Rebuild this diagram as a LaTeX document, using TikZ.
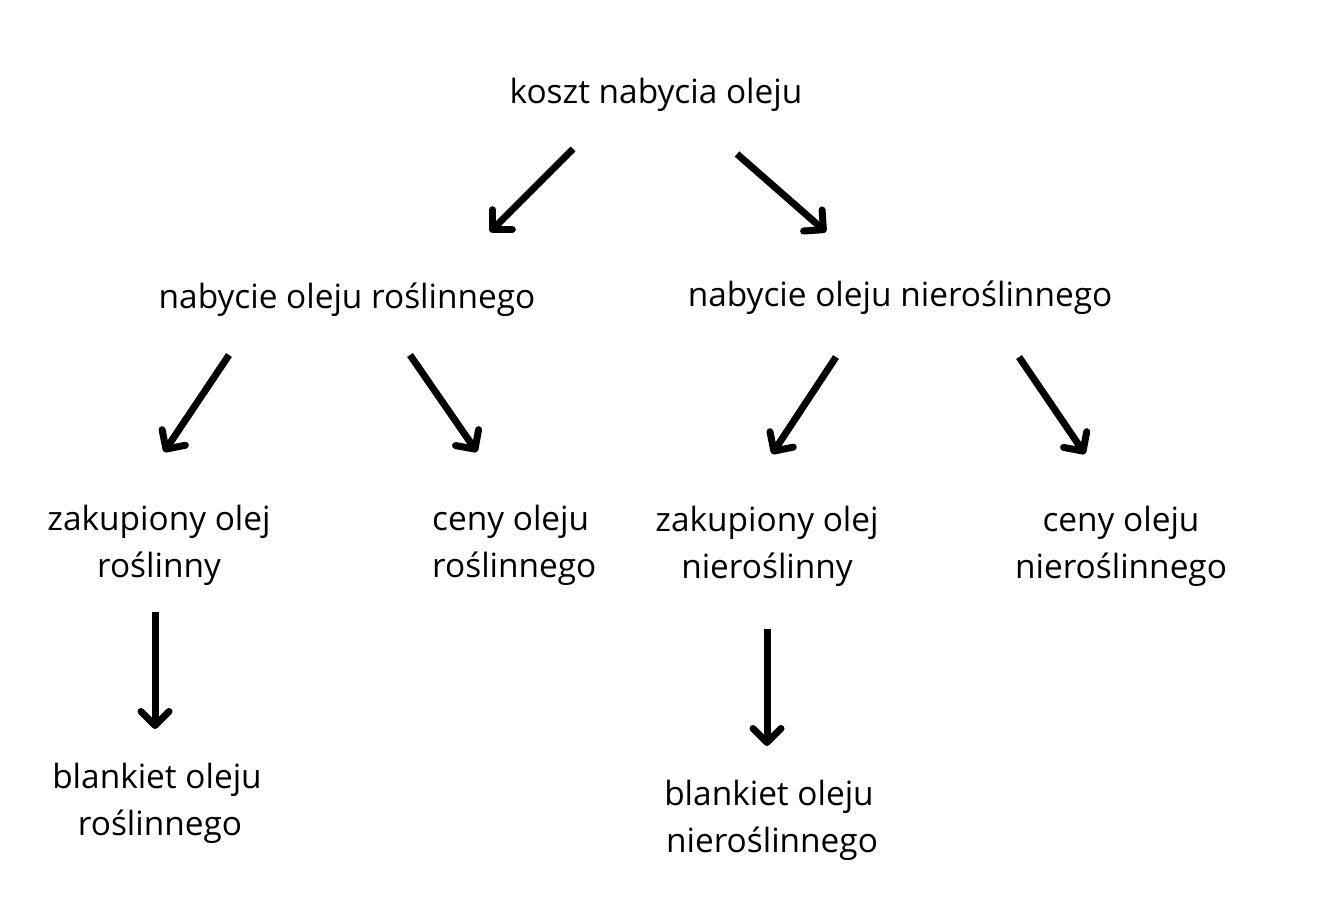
\documentclass[tikz,border=0pt]{standalone}
\usepackage{fontspec}
\setmainfont{Open Sans}
\usetikzlibrary{arrows.meta}
\begin{document}
\begin{tikzpicture}[x=1pt,y=-1pt,
  lbl/.style={inner sep=0pt, align=center, anchor=base,
    font=\fontsize{33.4}{47}\selectfont},
  arr/.style={line width=7pt, -{Straight Barb[length=14pt,width=28pt,round]}}]
\useasboundingbox (0,0) rectangle (1326,919);
\node[lbl] (root) at (656,103) {koszt nabycia oleju};
\node[lbl] (veg) at (347,308) {nabycie oleju roślinnego};
\node[lbl] (nveg) at (900,306) {nabycie oleju nieroślinnego};
\node[lbl] (buyveg) at (159,577) {zakupiony olej\\roślinny};
\node[lbl, align=left, anchor=base west] (priceveg) at (432,577) {ceny oleju\\roślinnego};
\node[lbl] (buynveg) at (767,578) {zakupiony olej\\nieroślinny};
\node[lbl] (pricenveg) at (1121,578) {ceny oleju\\nieroślinnego};
\node[lbl] (blankveg) at (157,835) {blankiet oleju\\\hspace*{6pt}roślinnego};
\node[lbl] (blanknveg) at (769,852) {blankiet oleju\\\hspace*{6pt}nieroślinnego};
\coordinate (a1s) at (573,149); \coordinate (a1e) at (490,232);
\coordinate (a2s) at (737,154); \coordinate (a2e) at (826,232);
\coordinate (a3s) at (229,355); \coordinate (a3e) at (164,452);
\coordinate (a4s) at (410,355); \coordinate (a4e) at (477,452);
\coordinate (a5s) at (836,357); \coordinate (a5e) at (772,454);
\coordinate (a6s) at (1019,357); \coordinate (a6e) at (1085,454);
\coordinate (a7s) at (155,612); \coordinate (a7e) at (155,729);
\coordinate (a8s) at (767,629); \coordinate (a8e) at (767,746);
\foreach \i in {1,...,8} \draw[arr] (a\i s) -- (a\i e);
\end{tikzpicture}
\end{document}
